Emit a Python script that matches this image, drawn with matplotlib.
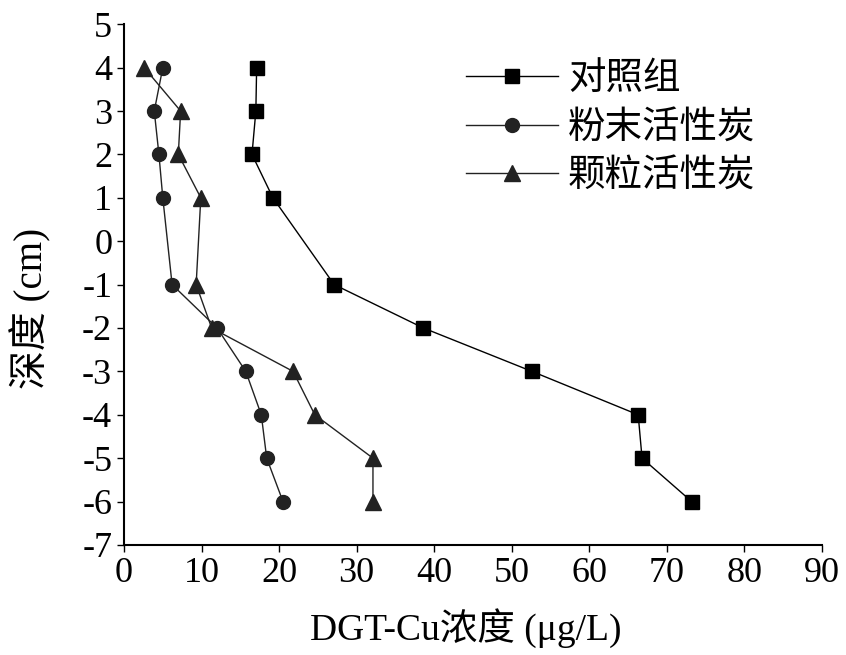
import matplotlib
matplotlib.use("Agg")
import matplotlib.pyplot as plt

plt.rcParams['font.family'] = ['Liberation Serif', 'Noto Sans CJK SC']
plt.rcParams['axes.unicode_minus'] = False

depth = [4, 3, 2, 1, -1, -2, -3, -4, -5, -6]
control = [17.1, 17.0, 16.5, 19.2, 27.1, 38.6, 52.6, 66.3, 66.8, 73.2]
powder = [5.0, 3.9, 4.5, 5.0, 6.2, 12.0, 15.7, 17.7, 18.4, 20.5]
granular = [2.6, 7.3, 7.0, 9.9, 9.3, 11.3, 21.8, 24.6, 32.1, 32.1]
labels = ['对照组', '粉末活性炭', '颗粒活性炭']
xticks = [0, 10, 20, 30, 40, 50, 60, 70, 80, 90]
yticks = [5, 4, 3, 2, 1, 0, -1, -2, -3, -4, -5, -6, -7]

fig = plt.figure(figsize=(8.46, 6.55), dpi=100)
ax = fig.add_axes([0.1466, 0.168, 0.825, 0.795])

ax.plot(control, depth, color='black', lw=1, marker='s', ms=10, label=labels[0])
ax.plot(powder, depth, color='#222222', lw=1, marker='o', ms=10, label=labels[1])
ax.plot(granular, depth, color='#222222', lw=1, marker='^', ms=11, label=labels[2])

ax.set_xlim(0, 90)
ax.set_ylim(-7, 5)
ax.set_xticks(xticks)
ax.set_yticks(yticks)
ax.spines['top'].set_visible(False)
ax.spines['right'].set_visible(False)
for s in ['left', 'bottom']:
    ax.spines[s].set_linewidth(1.5)
ax.tick_params(direction='out', length=5, width=1, labelsize=26)
ax.set_xlabel('DGT-Cu浓度 (μg/L)', fontsize=27, labelpad=13, x=0.49)
ax.set_ylabel('深度 (cm)', fontsize=28, labelpad=22, y=0.455)

ax.legend(loc='upper left', bbox_to_anchor=(0.49, 0.927), frameon=False,
          fontsize=27, handlelength=2.45, handletextpad=0.27, labelspacing=0.36,
          borderaxespad=0, borderpad=0)

fig.savefig('out.png', dpi=100)
